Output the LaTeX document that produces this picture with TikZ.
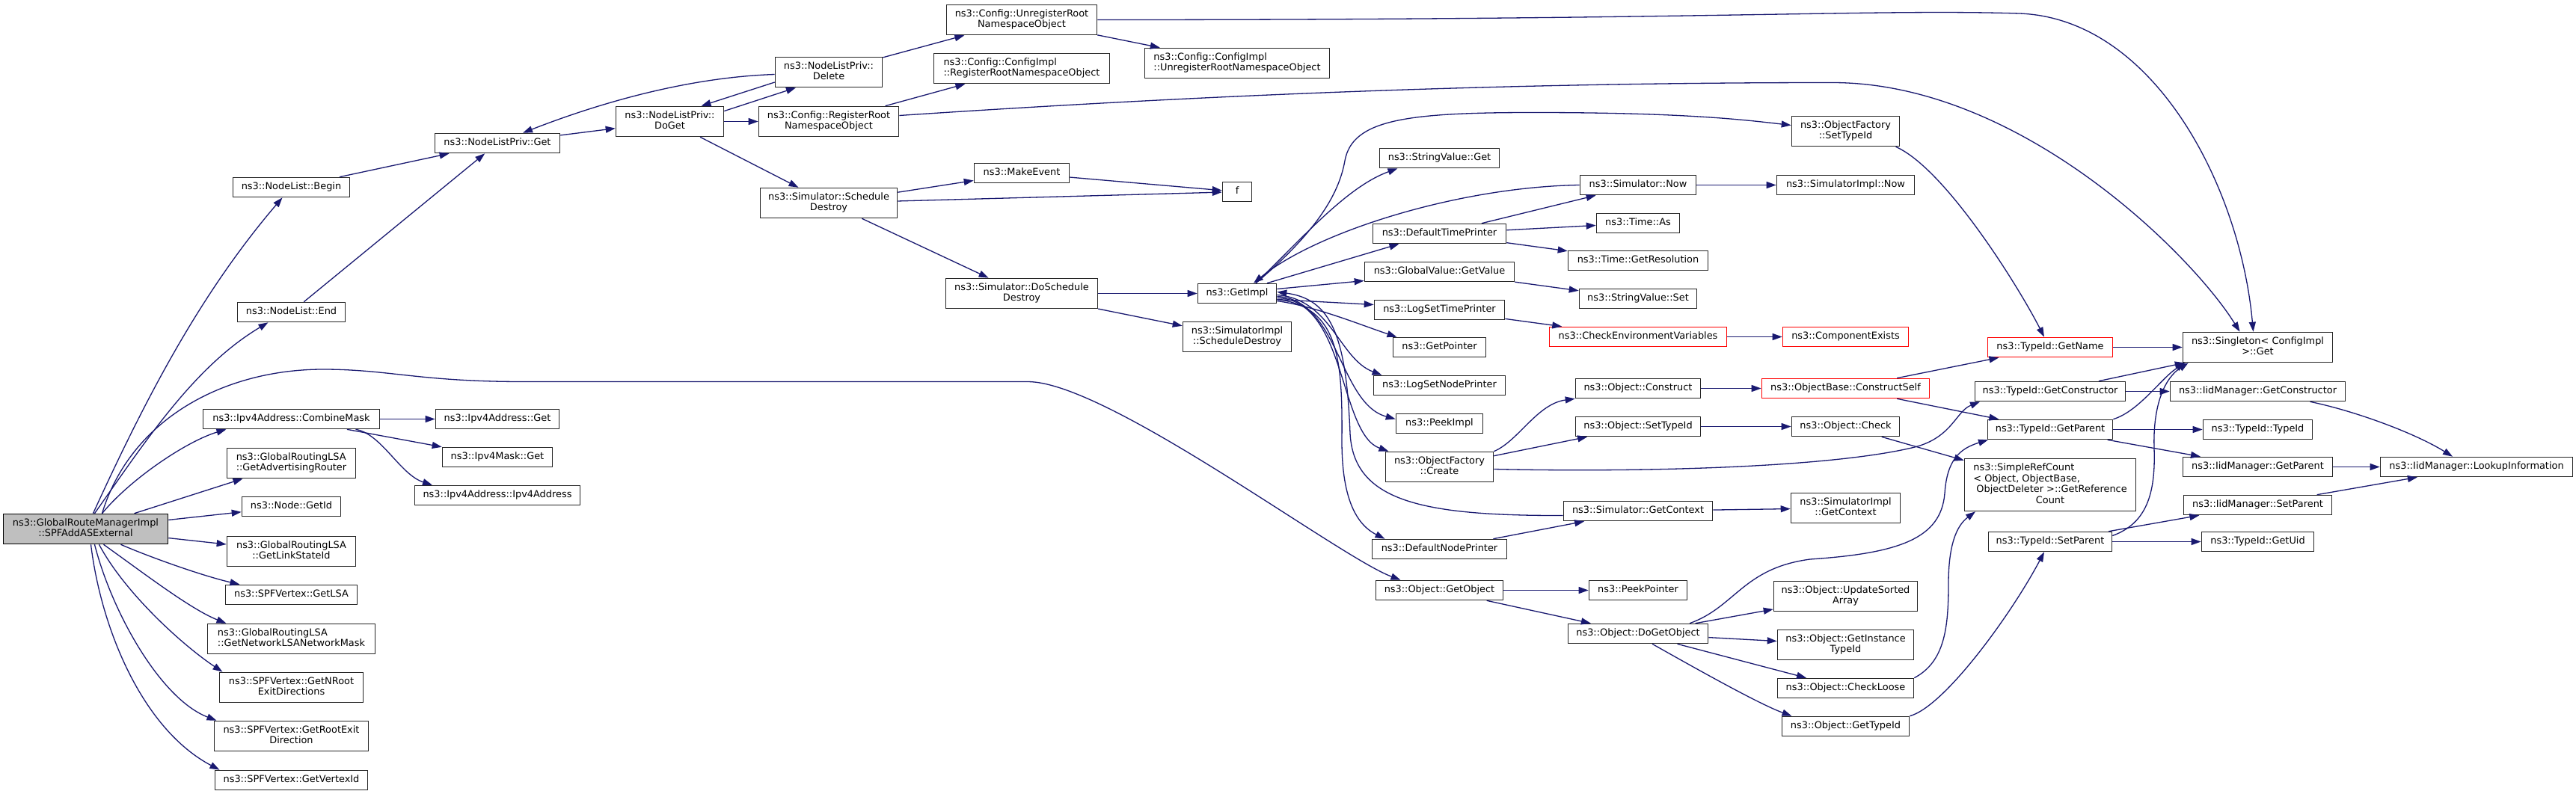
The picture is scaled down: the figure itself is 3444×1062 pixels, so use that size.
\documentclass[tikz,border=0pt]{standalone}
\usepackage{fontspec}
\setmainfont{DejaVu Sans}
\usetikzlibrary{arrows.meta}
\definecolor{edgec}{HTML}{191970}
\definecolor{bord}{HTML}{262626}
\definecolor{rootfill}{HTML}{BFBFBF}
\newcommand{\twoln}[2]{\begin{tabular}{@{}l@{}}#1\\\multicolumn{1}{@{}c@{}}{#2}\end{tabular}}
\tikzset{
  base/.style={draw=bord, fill=white, line width=1.6pt, inner sep=0pt,
    font=\fontsize{12.9pt}{14.5pt}\selectfont, minimum height=26pt},
  nd/.style={base, text height=10.15pt, text depth=4.35pt},
  ndm/.style={base, minimum height=40pt},
  rednd/.style={draw=red},
  e/.style={draw=edgec, line width=1.3pt, -{Triangle[length=13pt,width=9pt]}}
}
\begin{document}
\begin{tikzpicture}[x=1pt,y=-1pt]
\useasboundingbox (0,0) rectangle (3444,1062);
\fill[white] (0,0) rectangle (3444,1062);
% column 1
\node[ndm, minimum width=220pt, fill=rootfill, draw=black] (root) at (114.5,707.5) {\twoln{ns3::GlobalRouteManagerImpl}{::SPFAddASExternal}};
% column 2
\node[nd, minimum width=156pt] (begin) at (389.5,250.5) {ns3::NodeList::Begin};
\node[nd, minimum width=144pt] (end) at (389.5,417.5) {ns3::NodeList::End};
\node[nd, minimum width=236pt] (cm) at (389.5,560.5) {ns3::Ipv4Address::CombineMask};
\node[ndm, minimum width=172pt] (gar) at (389.5,619.5) {\twoln{ns3::GlobalRoutingLSA}{::GetAdvertisingRouter}};
\node[nd, minimum width=132pt] (getid) at (389.5,677.5) {ns3::Node::GetId};
\node[ndm, minimum width=172pt] (lsid) at (389.5,737.5) {\twoln{ns3::GlobalRoutingLSA}{::GetLinkStateId}};
\node[nd, minimum width=176pt] (lsa) at (389.5,795.5) {ns3::SPFVertex::GetLSA};
\node[ndm, minimum width=224pt] (nlsa) at (389.5,854.5) {\twoln{ns3::GlobalRoutingLSA}{::GetNetworkLSANetworkMask}};
\node[ndm, minimum width=192pt] (nroot) at (389.5,919.5) {\twoln{ns3::SPFVertex::GetNRoot}{ExitDirections}};
\node[ndm, minimum width=206pt] (rexit) at (389.5,984.5) {\twoln{ns3::SPFVertex::GetRootExit}{Direction}};
\node[nd, minimum width=204pt] (vid) at (389.5,1043.5) {ns3::SPFVertex::GetVertexId};
% column 3
\node[nd, minimum width=167pt] (getpriv) at (665,191.5) {ns3::NodeListPriv::Get};
\node[nd, minimum width=165pt] (ipv4get) at (665,560.5) {ns3::Ipv4Address::Get};
\node[nd, minimum width=147pt] (maskget) at (665,611.5) {ns3::Ipv4Mask::Get};
\node[nd, minimum width=221pt] (ipv4ctor) at (665,662.5) {ns3::Ipv4Address::Ipv4Address};
% column 4
\node[ndm, minimum width=144pt] (doget) at (895.5,162.5) {\twoln{ns3::NodeListPriv::}{DoGet}};
% column 5
\node[ndm, minimum width=143pt] (delete) at (1108,96.5) {\twoln{ns3::NodeListPriv::}{Delete}};
\node[ndm, minimum width=187pt] (reg) at (1108,162.5) {\twoln{ns3::Config::RegisterRoot}{NamespaceObject}};
\node[ndm, minimum width=183pt] (sd) at (1108,271.5) {\twoln{ns3::Simulator::Schedule}{Destroy}};
% column 6
\node[ndm, minimum width=201pt] (unreg) at (1366,26.5) {\twoln{ns3::Config::UnregisterRoot}{NamespaceObject}};
\node[ndm, minimum width=235pt] (cireg) at (1366,91.5) {\twoln{ns3::Config::ConfigImpl}{::RegisterRootNamespaceObject}};
\node[nd, minimum width=127pt] (makeevent) at (1366,231.5) {ns3::MakeEvent};
\node[ndm, minimum width=203pt] (dsd) at (1366,392.5) {\twoln{ns3::Simulator::DoSchedule}{Destroy}};
% column 7
\node[ndm, minimum width=247pt] (ciunreg) at (1654,84.5) {\twoln{ns3::Config::ConfigImpl}{::UnregisterRootNamespaceObject}};
\node[nd, minimum width=39pt] (f) at (1654,256.5) {f};
\node[nd, minimum width=105pt] (getimpl) at (1654,392.5) {ns3::GetImpl};
\node[ndm, minimum width=145pt] (sisd) at (1654,450.5) {\twoln{ns3::SimulatorImpl}{::ScheduleDestroy}};
% column 8
\node[nd, minimum width=160pt] (svget) at (1924.5,211.5) {ns3::StringValue::Get};
\node[nd, minimum width=178pt] (dtp) at (1924.5,312.5) {ns3::DefaultTimePrinter};
\node[nd, minimum width=200pt] (gv) at (1924.5,363.5) {ns3::GlobalValue::GetValue};
\node[nd, minimum width=174pt] (lstp) at (1924.5,414.5) {ns3::LogSetTimePrinter};
\node[nd, minimum width=124pt] (gp) at (1924.5,464.5) {ns3::GetPointer};
\node[nd, minimum width=176pt] (lsnp) at (1924.5,515.5) {ns3::LogSetNodePrinter};
\node[nd, minimum width=116pt] (peekimpl) at (1924.5,566.5) {ns3::PeekImpl};
\node[ndm, minimum width=144pt] (create) at (1924.5,624.5) {\twoln{ns3::ObjectFactory}{::Create}};
\node[nd, minimum width=180pt] (dnp) at (1924.5,734.5) {ns3::DefaultNodePrinter};
\node[nd, minimum width=170pt] (getobj) at (1924.5,789.5) {ns3::Object::GetObject};
% column 9
\node[nd, minimum width=155pt] (now) at (2190,247.5) {ns3::Simulator::Now};
\node[nd, minimum width=111pt] (as) at (2190,298.5) {ns3::Time::As};
\node[nd, minimum width=187pt] (res) at (2190,348.5) {ns3::Time::GetResolution};
\node[nd, minimum width=157pt] (svset) at (2190,399.5) {ns3::StringValue::Set};
\node[nd, rednd, minimum width=237pt] (cev) at (2190,450.5) {ns3::CheckEnvironmentVariables};
\node[nd, minimum width=167pt] (construct) at (2190,519.5) {ns3::Object::Construct};
\node[nd, minimum width=167pt] (osti) at (2190,570.5) {ns3::Object::SetTypeId};
\node[nd, minimum width=199pt] (gctx) at (2190,683.5) {ns3::Simulator::GetContext};
\node[nd, minimum width=131pt] (pp) at (2190,789.5) {ns3::PeekPointer};
\node[nd, minimum width=187pt] (dgo) at (2190,847.5) {ns3::Object::DoGetObject};
% column 10
\node[ndm, minimum width=144pt] (ofsti) at (2467.5,175.5) {\twoln{ns3::ObjectFactory}{::SetTypeId}};
\node[nd, minimum width=184pt] (sinow) at (2467.5,247.5) {ns3::SimulatorImpl::Now};
\node[nd, rednd, minimum width=168pt] (compex) at (2467.5,450.5) {ns3::ComponentExists};
\node[nd, rednd, minimum width=224pt] (cself) at (2467.5,519.5) {ns3::ObjectBase::ConstructSelf};
\node[nd, minimum width=144pt] (check) at (2467.5,570.5) {ns3::Object::Check};
\node[ndm, minimum width=146pt] (sigctx) at (2467.5,679.5) {\twoln{ns3::SimulatorImpl}{::GetContext}};
\node[ndm, minimum width=192pt] (usa) at (2467.5,797.5) {\twoln{ns3::Object::UpdateSorted}{Array}};
\node[ndm, minimum width=182pt] (gitid) at (2467.5,862.5) {\twoln{ns3::Object::GetInstance}{TypeId}};
\node[nd, minimum width=182pt] (checkloose) at (2467.5,920.5) {ns3::Object::CheckLoose};
\node[nd, minimum width=170pt] (gtid) at (2467.5,971.5) {ns3::Object::GetTypeId};
% column 11
\node[nd, rednd, minimum width=167pt] (getname) at (2741,464.5) {ns3::TypeId::GetName};
\node[nd, minimum width=201pt] (tgc) at (2741,523.5) {ns3::TypeId::GetConstructor};
\node[nd, minimum width=167pt] (tgp) at (2741,574.5) {ns3::TypeId::GetParent};
\node[base, minimum width=229pt, minimum height=70pt] (src) at (2741,648.5) {\begin{tabular}{@{}l@{}}ns3::SimpleRefCount\\< Object, ObjectBase,\\\ ObjectDeleter >::GetReference\\\multicolumn{1}{@{}c@{}}{Count}\end{tabular}};
\node[nd, minimum width=165pt] (tsp) at (2741,724.5) {ns3::TypeId::SetParent};
% column 12
\node[ndm, minimum width=200pt] (sing) at (3018.5,464.5) {\twoln{ns3::Singleton< ConfigImpl}{>::Get}};
\node[nd, minimum width=234pt] (igc) at (3018.5,523.5) {ns3::IidManager::GetConstructor};
\node[nd, minimum width=146pt] (ttid) at (3018.5,574.5) {ns3::TypeId::TypeId};
\node[nd, minimum width=200pt] (igp) at (3018.5,624.5) {ns3::IidManager::GetParent};
\node[nd, minimum width=198pt] (isp) at (3018.5,675.5) {ns3::IidManager::SetParent};
\node[nd, minimum width=150pt] (guid) at (3018.5,724.5) {ns3::TypeId::GetUid};
% column 13
\node[nd, minimum width=257pt] (lookup) at (3311,624.5) {ns3::IidManager::LookupInformation};

% ---------------- edges ----------------
\draw[e] ([xshift=10pt]root.north) .. controls (192,539) and (265,396) .. ([xshift=-12pt]begin.south);
\draw[e] ([xshift=12pt]root.north) .. controls (196,588) and (260,490) .. ([xshift=-31pt]end.south);
\draw[e] ([xshift=22pt]root.north) .. controls (175,560) and (300,494) .. (432,494) .. controls (520,494) and (560,510.5) .. (700,510.5) -- (1374,510.5) .. controls (1480,510.5) and (1790,745) .. ([xshift=-52pt]getobj.north);
\draw[e] ([xshift=22pt]root.north) .. controls (175,640) and (250,590) .. ([xshift=-87pt]cm.south);
\draw[e] (root) -- (gar);
\draw[e] (root) -- (getid);
\draw[e] (root) -- (lsid);
\draw[e] ([xshift=47pt]root.south) .. controls (200,745) and (270,770) .. ([xshift=-69pt]lsa.north);
\draw[e] ([xshift=24pt]root.south) .. controls (190,765) and (255,815) .. ([xshift=-87pt]nlsa.north);
\draw[e] ([xshift=18pt]root.south) .. controls (165,790) and (240,860) .. ([xshift=-92pt]nroot.north);
\draw[e] ([xshift=12pt]root.south) .. controls (150,820) and (215,935) .. ([xshift=-100pt]rexit.north);
\draw[e] ([xshift=7pt]root.south) .. controls (135,840) and (190,975) .. ([xshift=-96pt]vid.north);

\draw[e] (begin) -- (getpriv);
\draw[e] (end) -- (getpriv);
\draw[e] (cm) -- (ipv4get);
\draw[e] (cm) -- (maskget);
\draw[e] ([xshift=86pt]cm.south) .. controls (510,580) and (535,635) .. ([xshift=-87pt]ipv4ctor.north);

\draw[e] (getpriv) -- (doget);
\draw[e] ([yshift=14pt]doget.east) -- ([xshift=-44pt]delete.south);
\draw[e] ([yshift=-13.5pt]delete.west) -- ([xshift=42pt]doget.north);
\draw[e] ([yshift=-3pt]delete.west) .. controls (900,104) and (770,150) .. ([xshift=34pt]getpriv.north);
\draw[e] (doget) -- (reg);
\draw[e] (doget) -- (sd);
\draw[e] (delete) -- (unreg);
\draw[e] (reg) -- (cireg);
\draw[e] ([yshift=8pt]reg.east) .. controls (1600,128) and (2000,110.5) .. (2450,110.5) .. controls (2700,110.5) and (2930,340) .. ([xshift=-24pt]sing.north);
\draw[e] (unreg) -- (ciunreg);
\draw[e] (unreg.east) .. controls (2300,26.5) and (2500,12) .. (2700,18) .. controls (2880,25) and (2995,250) .. ([xshift=-6pt]sing.north);
\draw[e] (sd) -- (makeevent);
\draw[e] (sd) -- (f);
\draw[e] (makeevent) -- (f);
\draw[e] (sd) -- (dsd);
\draw[e] (dsd) -- (getimpl);
\draw[e] (dsd) -- (sisd);

% GetImpl fan
\draw[e] ([xshift=25pt]getimpl.north) .. controls (1760,310) and (1790,260) .. (1798,215) .. controls (1808,160) and (1880,150.5) .. (2050,150.5) .. controls (2250,150.5) and (2330,160) .. ([yshift=8pt]ofsti.west);
\draw[e] ([xshift=25pt]getimpl.north) .. controls (1740,320) and (1800,250) .. ([xshift=-56pt]svget.south);
\draw[e] (now.west) .. controls (1950,250) and (1760,310) .. ([xshift=22pt]getimpl.north);
\draw[e] ([xshift=40pt]getimpl.north) -- ([xshift=-54pt]dtp.south);
\draw[e] ([yshift=6pt]getimpl.east) -- ([yshift=-12pt]gv.west);
\draw[e] ([yshift=-8pt]getimpl.east) -- ([yshift=7pt]lstp.west);
\draw[e] ([yshift=-10pt]getimpl.east) .. controls (1760,410) and (1820,435) .. ([xshift=-57pt]gp.north);
\draw[e] ([yshift=-2pt]getimpl.east) .. controls (1780,400) and (1790,480) .. ([xshift=-77pt]lsnp.north);
\draw[e] ([yshift=-4pt]getimpl.east) .. controls (1790,400) and (1790,540) .. ([yshift=6pt]peekimpl.west);
\draw[e] ([yshift=-6pt]getimpl.east) .. controls (1800,400) and (1790,580) .. ([xshift=-68pt]create.north);
\draw[e] ([yshift=-6pt]gctx.west) .. controls (1900,690) and (1810,670) .. (1805,580) .. controls (1800,450) and (1780,400) .. ([yshift=2pt]getimpl.east);
\draw[e] ([yshift=-8pt]getimpl.east) .. controls (1790,410) and (1795,480) .. (1794,590) .. controls (1794,660) and (1810,700) .. ([xshift=-73pt]dnp.north);

\draw[e] (dtp) -- (now);
\draw[e] (dtp) -- (as);
\draw[e] (dtp) -- (res);
\draw[e] (gv) -- (svset);
\draw[e] (lstp) -- (cev);
\draw[e] (cev) -- (compex);
\draw[e] (now) -- (sinow);
\draw[e] (construct) -- (cself);
\draw[e] (create.north east) .. controls (2030,590) and (2055,540) .. (construct.south west);
\draw[e] (create) -- (osti);
\draw[e] ([yshift=-3pt]create.east) .. controls (2200,632) and (2450,625) .. (2560,598) .. controls (2610,585) and (2615,550) .. ([xshift=-94pt]tgc.south);
\draw[e] (dnp) -- (gctx);
\draw[e] (osti) -- (check);
\draw[e] (gctx) -- (sigctx);
\draw[e] (getobj) -- (pp);
\draw[e] (getobj) -- (dgo);
\draw[e] ([xshift=69pt]dgo.north) .. controls (2320,812) and (2330,760) .. (2420,748) .. controls (2540,740) and (2595,720) .. (2600,660) .. controls (2603,615) and (2620,600) .. ([xshift=-83pt]tgp.south);
\draw[e] (dgo) -- (usa);
\draw[e] (dgo) -- (gitid);
\draw[e] (dgo) -- (checkloose);
\draw[e] ([xshift=19pt]dgo.south) .. controls (2260,890) and (2350,941) .. ([xshift=-72pt]gtid.north);

\draw[e] ([xshift=67pt]ofsti.south) .. controls (2600,225) and (2698,382) .. ([xshift=-8pt]getname.north);
\draw[e] (cself) -- (getname);
\draw[e] (cself) -- (tgp);
\draw[e] (check) -- (src);
\draw[e] (checkloose.north east) .. controls (2600,885) and (2605,840) .. (2605,780) .. controls (2605,720) and (2620,700) .. ([xshift=-100pt]src.south);
\draw[e] (gtid.north east) .. controls (2600,945) and (2690,820) .. ([xshift=-8pt]tsp.south);

\draw[e] (getname) -- (sing);
\draw[e] (tgc) -- (igc);
\draw[e] (tgc) -- (sing);
\draw[e] (tgp) -- (ttid);
\draw[e] (tgp) -- (igp);
\draw[e] (tgp.north east) .. controls (2860,550) and (2890,505) .. ([xshift=4pt]sing.south west);
\draw[e] (tsp) -- (isp);
\draw[e] (tsp) -- (guid);
\draw[e] ([yshift=8pt]tsp.east) .. controls (2870,700) and (2882,660) .. (2880,600) .. controls (2878,540) and (2895,505) .. ([xshift=8pt]sing.south west);

\draw[e] ([xshift=70pt]igc.south) .. controls (3150,550) and (3230,580) .. ([xshift=-32pt]lookup.north);
\draw[e] (igp) -- (lookup);
\draw[e] (isp) -- (lookup);
\end{tikzpicture}
\end{document}
